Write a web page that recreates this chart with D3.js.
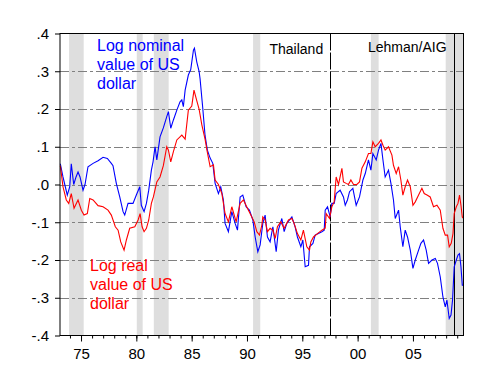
<!DOCTYPE html>
<html>
<head>
<meta charset="utf-8">
<script src="https://cdn.jsdelivr.net/npm/d3@7"></script>
<style>
  html, body { margin: 0; padding: 0; background: #fff; }
  svg { display: block; font-family: "Liberation Sans", Arial, sans-serif; }
</style>
</head>
<body>
<svg id="chart" width="499" height="389"></svg>
<script>
// ---- data (decimal years, log values) ----
const nominalDates = [
  1973.13,1973.37,1973.53,1973.76,1973.98,
  1974.12,1974.34,1974.55,1974.73,1974.91,
  1975.18,1975.36,1975.63,
  1976.09,1976.54,1976.99,
  1977.38,1977.74,1977.89,
  1978.19,1978.50,1978.80,1978.95,
  1979.25,1979.70,
  1980.00,1980.31,1980.45,1980.70,1980.91,
  1981.12,1981.36,1981.51,1981.69,1981.85,
  1982.14,1982.44,1982.75,1982.90,
  1983.11,1983.35,1983.66,1983.95,
  1984.11,1984.25,1984.41,1984.70,1984.92,
  1985.16,1985.25,1985.46,1985.67,1985.76,
  1986.01,1986.21,1986.42,1986.67,1986.91,
  1987.12,1987.42,1987.63,1987.87,
  1988.02,1988.32,1988.63,1988.93,
  1989.14,1989.38,1989.62,1989.92,
  1990.22,1990.53,1990.74,1990.98,
  1991.19,1991.43,1991.64,1991.85,
  1992.09,1992.34,1992.64,1992.84,
  1993.15,1993.36,1993.60,
  1994.06,1994.35,1994.56,1994.87,
  1995.05,1995.26,1995.56,1995.65,1995.96,
  1996.16,1996.46,1996.77,1996.98,
  1997.07,1997.28,1997.52,1997.67,1997.88,
  1998.06,1998.42,1998.72,1998.88,
  1999.08,1999.27,1999.57,1999.87,
  2000.17,2000.48,2000.69,2000.98,
  2001.20,2001.38,2001.68,2001.89,
  2002.11,2002.29,2002.49,2002.79,
  2003.01,2003.24,2003.40,2003.70,2003.85,
  2004.09,2004.30,2004.51,2004.76,
  2005.00,2005.21,2005.51,2005.72,2005.96,
  2006.20,2006.41,2006.72,
  2007.02,2007.22,2007.47,2007.71,2007.92,
  2008.07,2008.28,2008.44,2008.58,2008.73,2008.92,
  2009.07,2009.21,2009.34,2009.46,2009.57
];
const nominalValues = [
  0.055,0.02,0.0,-0.028,-0.006,
  0.055,0.0,0.02,0.033,0.02,
  -0.015,0.0,0.047,
  0.056,0.063,0.072,
  0.069,0.056,0.05,
  0.003,-0.033,-0.072,-0.081,
  -0.05,-0.05,
  -0.028,-0.006,-0.055,-0.072,-0.05,
  -0.015,0.038,0.06,0.1,0.065,
  0.126,0.15,0.18,0.193,
  0.149,0.171,0.197,0.219,
  0.224,0.206,0.25,0.29,0.305,
  0.356,0.361,0.325,0.3,0.28,
  0.2,0.13,0.091,0.07,0.056,
  0.003,-0.024,-0.006,-0.041,
  -0.103,-0.125,-0.072,-0.103,
  -0.121,-0.033,-0.028,-0.059,
  -0.068,-0.094,-0.139,-0.178,
  -0.16,-0.103,-0.081,-0.139,
  -0.152,-0.112,-0.178,-0.121,
  -0.09,-0.125,-0.103,
  -0.086,-0.112,-0.139,-0.165,
  -0.147,-0.218,-0.214,-0.165,-0.156,
  -0.134,-0.13,-0.125,-0.121,
  -0.068,-0.059,-0.086,-0.05,-0.05,
  -0.024,-0.015,-0.033,-0.055,
  -0.041,-0.019,-0.01,-0.055,
  -0.033,0.012,0.029,0.065,
  0.038,0.082,0.065,0.091,
  0.109,0.065,0.02,0.038,
  0.003,-0.041,-0.09,-0.068,-0.112,
  -0.165,-0.121,-0.139,-0.174,
  -0.222,-0.2,-0.174,-0.156,-0.147,
  -0.174,-0.209,-0.2,
  -0.196,-0.209,-0.245,-0.298,-0.324,
  -0.306,-0.355,-0.346,-0.306,-0.218,-0.2,
  -0.187,-0.183,-0.218,-0.267,-0.267
];
const realDates = [
  1973.13,1973.37,1973.67,1973.89,
  1974.12,1974.37,1974.73,
  1975.03,1975.27,1975.57,1975.79,
  1976.09,1976.54,1976.99,
  1977.44,1977.74,
  1978.10,1978.35,1978.59,1978.89,
  1979.10,1979.40,1979.86,
  1980.16,1980.34,1980.52,1980.70,1980.91,
  1981.12,1981.36,1981.54,1981.85,
  1982.14,1982.44,1982.75,1982.90,
  1983.11,1983.35,1983.66,
  1984.11,1984.41,1984.70,
  1985.01,1985.21,1985.46,1985.67,1985.92,
  1986.21,1986.42,1986.67,1986.97,
  1987.12,1987.42,1987.73,
  1988.02,1988.32,1988.63,
  1989.02,1989.38,1989.68,
  1990.04,1990.35,1990.65,1990.89,
  1991.13,1991.34,1991.43,1991.64,1991.85,
  1992.09,1992.34,1992.55,1992.75,
  1993.06,1993.36,1993.75,
  1994.06,1994.26,1994.56,1994.87,
  1995.10,1995.41,1995.65,1995.77,
  1996.01,1996.37,1996.77,
  1997.07,1997.16,1997.46,1997.67,1997.88,
  1998.06,1998.27,1998.58,1998.72,1998.97,
  1999.17,1999.39,1999.63,1999.93,
  2000.17,2000.39,2000.69,2000.98,
  2001.20,2001.38,2001.59,2001.89,
  2002.11,2002.29,2002.49,2002.79,
  2003.10,2003.24,2003.49,2003.70,2003.91,
  2004.09,2004.30,2004.51,2004.76,
  2005.00,2005.21,2005.51,2005.81,
  2006.02,2006.27,2006.56,2006.86,
  2007.17,2007.47,2007.71,2007.92,
  2008.13,2008.28,2008.46,2008.62,2008.73,2008.92,
  2009.07,2009.21,2009.34,2009.46,2009.57
];
const realValues = [
  0.05,-0.006,-0.041,-0.05,
  -0.024,-0.063,-0.041,
  -0.068,-0.081,-0.077,-0.037,
  -0.041,-0.056,-0.059,
  -0.068,-0.081,
  -0.112,-0.121,-0.152,-0.174,
  -0.147,-0.116,-0.112,
  -0.094,-0.077,-0.112,-0.125,-0.116,
  -0.094,-0.05,-0.033,0.007,
  0.02,0.05,0.1,0.091,
  0.06,0.087,0.118,
  0.131,0.12,0.197,
  0.208,0.25,0.222,0.2,0.158,
  0.12,0.085,0.047,0.052,
  0.012,0.0,-0.024,
  -0.077,-0.099,-0.059,
  -0.099,-0.05,-0.041,
  -0.063,-0.081,-0.099,-0.125,
  -0.134,-0.108,-0.086,-0.094,-0.125,
  -0.116,-0.121,-0.143,-0.112,
  -0.099,-0.116,-0.094,
  -0.09,-0.103,-0.13,-0.147,
  -0.121,-0.165,-0.174,-0.152,
  -0.139,-0.13,-0.121,
  -0.116,-0.077,-0.09,-0.059,-0.046,
  0.02,0.0,0.043,0.007,0.003,
  0.0,0.012,0.0,0.0,
  0.007,0.043,0.06,0.082,
  0.082,0.113,0.1,0.109,
  0.118,0.104,0.091,0.1,
  0.078,0.051,0.029,0.047,0.012,
  -0.028,-0.006,0.012,-0.006,
  -0.055,-0.046,-0.028,-0.01,
  -0.024,-0.028,-0.033,-0.059,
  -0.055,-0.068,-0.116,-0.134,
  -0.134,-0.165,-0.156,-0.13,-0.077,-0.059,
  -0.05,-0.028,-0.055,-0.086,-0.09
];
const recessionStarts = [1973.92, 1980.04, 1981.58, 1990.55, 2001.20, 2007.96];
const recessionEnds   = [1975.24, 1980.57, 1982.92, 1991.20, 2001.90, 2009.57];
const eventDates  = [1997.52, 2008.67];
const eventLabels = ["Thailand", "Lehman/AIG"];
const yTickValues = [0.4, 0.3, 0.2, 0.1, 0.0, -0.1, -0.2, -0.3, -0.4];
const yTickLabels = [".4", ".3", ".2", ".1", ".0", "-.1", "-.2", "-.3", "-.4"];
const xMajorYears = [1975, 1980, 1985, 1990, 1995, 2000, 2005];
const xMajorLabels = ["75", "80", "85", "90", "95", "00", "05"];
const xMinorYears = d3.range(1974, 2010);
const nominalLabel = ["Log nominal", "value of US", "dollar"];
const realLabel = ["Log real", "value of US", "dollar"];

// ---- layout ----
const svg = d3.select("#chart");
const L = 60, R = 463.5, T = 33.5, B = 335.5;
const x = d3.scaleLinear().domain([1973.1, 2009.57]).range([L, R]);
const y = d3.scaleLinear().domain([-0.4, 0.4]).range([B, T]);

// recession bands
svg.append("g").selectAll("rect")
  .data(d3.zip(recessionStarts, recessionEnds))
  .join("rect")
  .attr("x", d => x(d[0]))
  .attr("width", d => Math.min(x(d[1]), R) - x(d[0]))
  .attr("y", T).attr("height", B - T)
  .attr("fill", "#dedede");

// grid lines
svg.append("g").selectAll("line")
  .data(yTickValues.filter(v => Math.abs(v) < 0.35))
  .join("line")
  .attr("x1", L).attr("x2", R)
  .attr("y1", d => Math.round(y(d)) + 0.5).attr("y2", d => Math.round(y(d)) + 0.5)
  .attr("stroke", "#808080").attr("stroke-width", 1)
  .attr("stroke-dasharray", "9,3,3,3");

// event lines
svg.append("g").selectAll("line")
  .data(eventDates)
  .join("line")
  .attr("x1", d => Math.round(x(d)) + 0.5).attr("x2", d => Math.round(x(d)) + 0.5)
  .attr("y1", T).attr("y2", B)
  .attr("stroke", "#000").attr("stroke-width", 1)
  .attr("stroke-dasharray", (d, i) => i === 0 ? "17,2" : null);

// series
const line = d3.line().x(d => x(d[0])).y(d => y(d[1]));
svg.append("path")
  .datum(d3.zip(nominalDates, nominalValues))
  .attr("d", line).attr("fill", "none")
  .attr("stroke", "#0000ff").attr("stroke-width", 1.1);
svg.append("path")
  .datum(d3.zip(realDates, realValues))
  .attr("d", line).attr("fill", "none")
  .attr("stroke", "#ff0000").attr("stroke-width", 1.1);

// frame
svg.append("rect")
  .attr("x", L).attr("y", T).attr("width", R - L).attr("height", B - T)
  .attr("fill", "none").attr("stroke", "#000").attr("stroke-width", 1);

// y axis ticks and labels
const yAxis = d3.axisLeft(y).tickValues(yTickValues)
  .tickFormat((d, i) => yTickLabels[i]).tickSize(5).tickPadding(6);
const gy = svg.append("g").attr("transform", `translate(${L},0)`).call(yAxis);
gy.select(".domain").remove();
gy.selectAll("text").attr("font-size", 15).attr("fill", "#000")
  .attr("font-family", "'Liberation Sans', Arial, sans-serif");

// x axis
const xMinor = d3.axisBottom(x).tickValues(xMinorYears).tickSize(3).tickFormat("");
const gxm = svg.append("g").attr("transform", `translate(0,${B})`).call(xMinor);
gxm.select(".domain").remove();
const xMajor = d3.axisBottom(x).tickValues(xMajorYears)
  .tickFormat((d, i) => xMajorLabels[i]).tickSize(6).tickPadding(7);
const gx = svg.append("g").attr("transform", `translate(0,${B})`).call(xMajor);
gx.select(".domain").remove();
gx.selectAll("text").attr("font-size", 15).attr("fill", "#000")
  .attr("font-family", "'Liberation Sans', Arial, sans-serif");

// event labels
svg.append("g").selectAll("text")
  .data(eventDates)
  .join("text")
  .attr("x", d => x(d) - 7)
  .attr("y", (d, i) => i === 0 ? 53.5 : 52)
  .attr("text-anchor", "end")
  .attr("font-size", 14)
  .attr("fill", "#000")
  .text((d, i) => eventLabels[i]);

// series labels
svg.append("g").selectAll("text")
  .data(nominalLabel).join("text")
  .attr("x", 97).attr("y", (d, i) => 51 + i * 19)
  .attr("font-size", 16).attr("fill", "#0000ff").text(d => d);
svg.append("g").selectAll("text")
  .data(realLabel).join("text")
  .attr("x", 90).attr("y", (d, i) => 271 + i * 19)
  .attr("font-size", 16).attr("fill", "#ff0000").text(d => d);
</script>
</body>
</html>
